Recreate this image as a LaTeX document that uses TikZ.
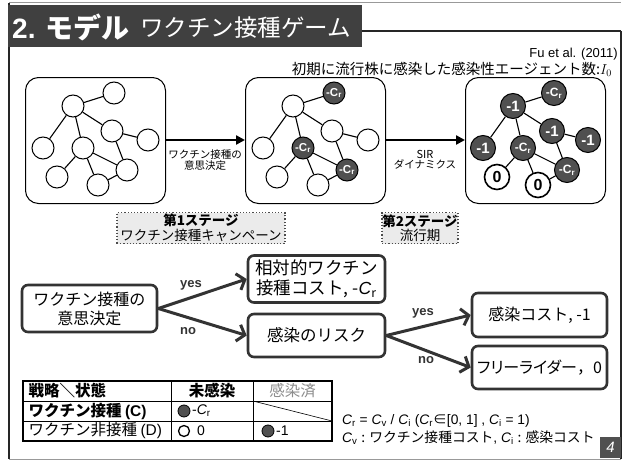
\documentclass[tikz,border=0pt]{standalone}
\usepackage{fontspec}
\setmainfont{Liberation Sans}
\newfontfamily\jp{Noto Sans CJK JP}
\newfontfamily\jpp{Noto Sans CJK JP}[RawFeature=+palt]
\usetikzlibrary{arrows.meta}
\definecolor{dk}{HTML}{404040}
\definecolor{nd}{HTML}{505050}
\definecolor{bx}{HTML}{333333}
\newcommand\myC[1]{{\itshape C}\textsubscript{#1}}
\newcommand\fs[1]{\fontsize{#1}{#1}\selectfont}
\tikzset{
  wn/.style={circle,draw=black,line width=1pt,fill=white,minimum size=22pt,inner sep=0pt},
  dn/.style={circle,draw=black,line width=1pt,fill=nd,text=white,minimum size=22pt,inner sep=0pt,font=\fs{11.5}\bfseries},
  dnb/.style={dn,minimum size=25pt,font=\fs{15}\bfseries},
  zn/.style={wn,minimum size=25pt,line width=1.6pt,font=\fs{16}\bfseries},
  edge/.style={line width=1.1pt},
  netbox/.style={draw=black,line width=1pt,rounded corners=13pt},
  bigarrow/.style={line width=2.6pt,-{Triangle[length=9pt,width=9pt]}},
  stagebox/.style={draw=black!70,dotted,line width=1.2pt,fill=black!8,align=center,inner sep=0pt,font=\jp\fs{13.5}},
  treebox/.style={draw=bx,line width=2.6pt,rounded corners=6pt,fill=white,align=center,inner sep=0pt,font=\jp\fs{16}},
  tarrow/.style={draw=bx,line width=3pt,-{Straight Barb[length=7pt,width=17pt]}},
  tlabel/.style={text=bx,font=\fs{13}\bfseries},
  tcell/.style={anchor=west,font=\jp\fs{15.5}},
}
\begin{document}
\begin{tikzpicture}[x=1pt,y=-1pt]
\useasboundingbox (0,0) rectangle (625,461);
% frame
\draw[black!40,line width=0.8pt] (9,2) -- (621,2);
\draw[black!40,line width=1pt] (9,459) -- (621,459);
\draw[black!85,line width=1.6pt] (9,3) -- (9,459);
\fill[dk] (8,5) rectangle (362,47);
\draw[black!85,line width=2.4pt] (362,31) -- (621,31);
\draw[black!85,line width=1.6pt] (621,31) -- (621,459);
\node[anchor=west,text=white,inner sep=0pt] (t1) at (12,27) {\fs{28}\bfseries 2. {\jp モデル}};
\node[anchor=west,text=white,inner sep=0pt] (t2) at (140,28) {\jp\fs{23.5}ワクチン接種ゲーム};
\node[anchor=east,inner sep=0pt] (ref) at (618,54) {\fs{13}Fu et al. (2011)};
\node[anchor=east,inner sep=0pt] (i0) at (612,69.5) {\jp\fs{14.5}初期に流行株に感染した感染性エージェント数:$I_0$};
% network boxes
\node[netbox,minimum width=140pt,minimum height=126pt,anchor=north west] (box1) at (25,77) {};
\node[netbox,minimum width=140pt,minimum height=126pt,anchor=north west] (box2) at (245,77) {};
\node[netbox,minimum width=140pt,minimum height=126pt,anchor=north west] (box3) at (465,77) {};
% box 1
\begin{scope}[shift={(25,0)}]
\node[wn] (a-tr) at (89,93) {};
\node[wn] (a-hub) at (48,106) {};
\node[wn] (a-mr) at (87,131) {};
\node[wn] (a-fr) at (123,140) {};
\node[wn] (a-lf) at (18,148) {};
\node[wn] (a-ce) at (58,148) {};
\node[wn] (a-lr) at (102,170) {};
\node[wn] (a-bl) at (32,177) {};
\node[wn] (a-bm) at (73,185) {};
\end{scope}
% box 2
\begin{scope}[shift={(245,0)}]
\node[dn] (b-tr) at (89,93) {-C\textsubscript{r}};
\node[wn] (b-hub) at (48,106) {};
\node[wn] (b-mr) at (87,131) {};
\node[wn] (b-fr) at (123,140) {};
\node[wn] (b-lf) at (18,148) {};
\node[dn] (b-ce) at (58,148) {-C\textsubscript{r}};
\node[dn] (b-lr) at (102,170) {-C\textsubscript{r}};
\node[wn] (b-bl) at (32,177) {};
\node[wn] (b-bm) at (73,185) {};
\end{scope}
% box 3
\begin{scope}[shift={(465,0)}]
\node[dnb,font=\fs{12}\bfseries] (c-tr) at (89,93) {-C\textsubscript{r}};
\node[dnb] (c-hub) at (48,106) {-1};
\node[dnb] (c-mr) at (87,131) {-1};
\node[dnb] (c-fr) at (123,140) {-1};
\node[dnb] (c-lf) at (18,148) {-1};
\node[dnb,font=\fs{12}\bfseries] (c-ce) at (58,148) {-C\textsubscript{r}};
\node[dnb,font=\fs{12}\bfseries] (c-lr) at (102,170) {-C\textsubscript{r}};
\node[zn] (c-bl) at (32,177) {0};
\node[zn] (c-bm) at (73,185) {0};
\end{scope}
\foreach \p in {a,b,c}{
  \draw[edge] (\p-hub) -- (\p-tr);
  \draw[edge] (\p-hub) -- (\p-lf);
  \draw[edge] (\p-hub) -- (\p-ce);
  \draw[edge] (\p-hub) -- (\p-mr);
  \draw[edge] (\p-mr) -- (\p-fr);
  \draw[edge] (\p-mr) -- (\p-lr);
  \draw[edge] (\p-ce) -- (\p-bl);
  \draw[edge] (\p-ce) -- (\p-bm);
  \draw[edge] (\p-ce) -- (\p-lr);
  \draw[edge] (\p-lr) -- (\p-bm);
}
% arrows between boxes
\draw[bigarrow] (box1.east |- 0,140) -- (box2.west |- 0,140);
\draw[bigarrow] (box2.east |- 0,140) -- (box3.west |- 0,140);
\node[align=center,font=\jp\fs{10.5},inner sep=0pt] (lab1) at (205,160) {ワクチン接種の\\[0pt]意思決定};
\node[align=center,font=\jp\fs{10.5},inner sep=0pt] (lab2) at (425,160) {{\fs{11}SIR}\\[0pt]ダイナミクス};
% stage boxes
\node[stagebox,minimum width=168pt,minimum height=31pt] (st1) at (201,228) {{\bfseries 第1ステージ}\\[1pt]ワクチン接種キャンペーン};
\node[stagebox,minimum width=76pt,minimum height=31pt] (st2) at (420,228) {{\bfseries 第2ステージ}\\[1pt]流行期};
% decision tree
\node[treebox,minimum width=135pt,minimum height=47pt] (dec) at (89.5,308.5) {ワクチン接種の\\[3pt]意思決定};
\node[treebox,minimum width=137pt,minimum height=47pt,font=\jp\fs{17.5}] (cost) at (316.5,279) {相対的ワクチン\\[2pt]接種コスト, -{\rmfamily\itshape C}\textsubscript{r}};
\node[treebox,minimum width=137pt,minimum height=43pt,font=\jp\fs{16.5}] (risk) at (316.5,335.5) {感染のリスク};
\node[treebox,minimum width=135pt,minimum height=44pt] (inf) at (539.5,315) {感染コスト, -1};
\node[treebox,minimum width=135pt,minimum height=43pt,font=\jpp\fs{16}] (free) at (539.5,367.5) {フリーライダー{\jp ，}0};
\draw[tarrow] (dec.east) -- (cost.west);
\draw[tarrow] (dec.east) -- (risk.west);
\draw[tarrow] (risk.east) -- (inf.west);
\draw[tarrow] (risk.east) -- (free.west);
\node[tlabel] (y1) at (191,285) {yes};
\node[tlabel] (n1) at (188,331) {no};
\node[tlabel] (y2) at (423,313) {yes};
\node[tlabel] (n2) at (426,360) {no};
% table
\draw[line width=0.8pt] (23,401) -- (332,401);
\draw[line width=0.8pt] (23,421) -- (332,421);
\draw[line width=0.8pt] (171,381) -- (171,441);
\draw[line width=0.8pt] (253,381) -- (253,441);
\draw[line width=0.6pt] (253,401) -- (332,421);
\draw[line width=1.6pt] (23,381) rectangle (332,441);
\node[tcell,font=\jp\fs{15.5}\bfseries] (h1) at (25,391) {戦略＼状態};
\node[font=\jp\fs{15.5}\bfseries] (h2) at (212,391) {未感染};
\node[font=\jp\fs{15.5},text=black!45] (h3) at (292.5,391) {感染済};
\node[tcell,font=\jp\fs{15.5}\bfseries] (r1) at (25,411) {ワクチン接種 {\rmfamily (C)}};
\node[tcell] (r2) at (25,431) {ワクチン非接種 {\rmfamily (D)}};
\node[circle,draw=black,fill=nd,line width=0.8pt,minimum size=12pt,inner sep=0pt] (c1) at (184,411) {};
\node[anchor=west,inner sep=0pt,font=\fs{14}] (v1) at (192,411) {-\myC{r}};
\node[circle,draw=black,fill=white,line width=1.3pt,minimum size=11pt,inner sep=0pt] (c2) at (184,431) {};
\node[anchor=west,inner sep=0pt,font=\fs{14}] (v2) at (197,431) {0};
\node[circle,draw=black,fill=nd,line width=0.8pt,minimum size=12pt,inner sep=0pt] (c3) at (268,431) {};
\node[anchor=west,inner sep=0pt,font=\fs{14}] (v3) at (276,431) {-1};
% formulas
\node[anchor=west,inner sep=0pt,font=\fs{13.8}] (f1) at (342,421) {\myC{r} = \myC{v} / \myC{i} (\myC{r}{\jp ∈}[0, 1] , \myC{i} = 1)};
\node[anchor=west,inner sep=0pt,font=\fs{13.8}] (f2) at (342,438) {\myC{v} {\jp : ワクチン接種コスト}, \myC{i} {\jp : 感染コスト}};
% page number
\fill[nd] (600,437) rectangle (621,458);
\node[text=white,font=\fs{15}\itshape,inner sep=0pt] (pg) at (610.5,447.5) {4};
\end{tikzpicture}
\end{document}
